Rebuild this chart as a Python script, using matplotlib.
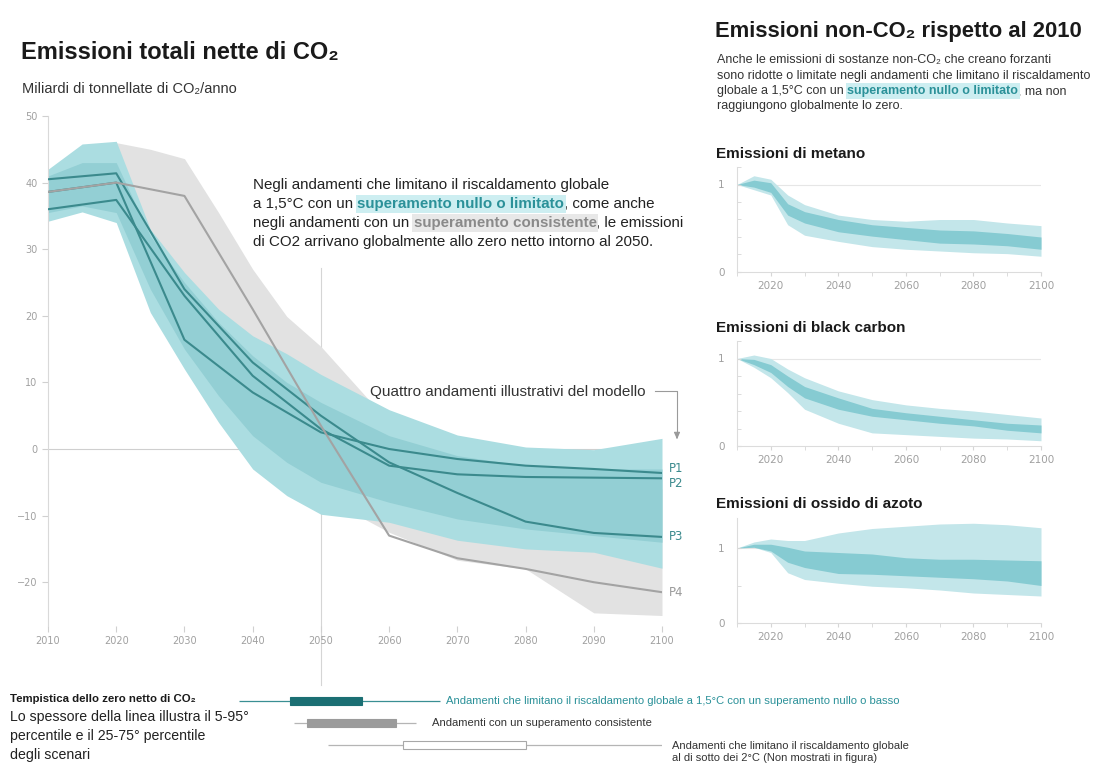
import numpy as np
import matplotlib
matplotlib.use("Agg")
import matplotlib.pyplot as plt
from matplotlib.ticker import MultipleLocator

W, H = 1115, 764
SANS = ["Liberation Sans", "DejaVu Sans"]
plt.rcParams["font.family"] = SANS

## main chart data (Gt CO2/anno)
years = [2010, 2015, 2020, 2025, 2030, 2035, 2040, 2045, 2050, 2060, 2070, 2080, 2090, 2100]
teal_hi = [42, 45.8, 46.2, 33, 26.5, 21, 17, 14.3, 11.2, 5.9, 2.1, 0.3, -0.1, 1.6]
teal_lo = [34.2, 35.6, 34, 20.5, 12, 4, -3, -7, -9.8, -11, -13.7, -15, -15.5, -17.9]
teal_in_hi = [41, 43, 43, 32, 25, 19, 14, 10, 7, 2, -1, -2.5, -3, -3]
teal_in_lo = [35.5, 36.5, 35.5, 24, 15, 8, 2, -2, -5, -8, -10.5, -12, -13, -14]
grey_hi = [40, 44, 46, 45, 43.6, 35.5, 27, 19.9, 15.4, 4, -2, -5, -6, -6]
grey_lo = [37, 38, 38, 33, 25, 15, 5, -3, -7, -12.5, -16.7, -18, -24.6, -25]

p_years = [2010, 2020, 2030, 2040, 2050, 2060, 2070, 2080, 2090, 2100]
P1 = [38.6, 40.0, 16.4, 8.5, 2.5, 0.0, -1.5, -2.5, -3.0, -3.6]
P2 = [36.0, 37.4, 23.0, 11.0, 3.0, -2.5, -3.8, -4.2, -4.3, -4.4]
P3 = [40.5, 41.4, 24.0, 13.0, 5.0, -2.0, -6.6, -10.9, -12.6, -13.2]
P4 = [38.6, 40.0, 38.0, 21.0, 3.5, -13.0, -16.4, -18.0, -20.0, -21.5]

## non-CO2 panels (rispetto al 2010)
sy = [2010, 2015, 2020, 2025, 2030, 2040, 2050, 2060, 2070, 2080, 2090, 2100]
ch4_out_hi = [1, 1.1, 1.06, 0.88, 0.77, 0.65, 0.6, 0.58, 0.6, 0.6, 0.56, 0.53]
ch4_out_lo = [1, 0.94, 0.88, 0.54, 0.42, 0.35, 0.29, 0.26, 0.24, 0.22, 0.21, 0.18]
ch4_in_hi = [1, 1.05, 1.02, 0.78, 0.69, 0.6, 0.54, 0.51, 0.48, 0.47, 0.44, 0.4]
ch4_in_lo = [1, 0.97, 0.91, 0.65, 0.56, 0.46, 0.41, 0.37, 0.33, 0.32, 0.3, 0.26]

bc_out_hi = [1, 1.04, 1.0, 0.88, 0.78, 0.63, 0.53, 0.47, 0.43, 0.4, 0.36, 0.32]
bc_out_lo = [1, 0.9, 0.78, 0.61, 0.42, 0.26, 0.15, 0.13, 0.11, 0.09, 0.08, 0.06]
bc_in_hi = [1, 0.99, 0.93, 0.8, 0.68, 0.55, 0.43, 0.38, 0.34, 0.3, 0.26, 0.24]
bc_in_lo = [1, 0.93, 0.84, 0.68, 0.55, 0.42, 0.34, 0.3, 0.26, 0.23, 0.18, 0.15]

n2o_out_hi = [1, 1.08, 1.12, 1.1, 1.1, 1.2, 1.26, 1.29, 1.32, 1.33, 1.31, 1.27]
n2o_out_lo = [1, 1.01, 0.94, 0.67, 0.58, 0.53, 0.49, 0.47, 0.44, 0.4, 0.38, 0.36]
n2o_in_hi = [1, 1.05, 1.05, 1.01, 0.96, 0.94, 0.92, 0.87, 0.85, 0.85, 0.84, 0.83]
n2o_in_lo = [1, 1.01, 0.96, 0.81, 0.74, 0.66, 0.65, 0.63, 0.61, 0.59, 0.56, 0.5]

## net zero timing (5, 25, 75, 95 percentile years)
nz_rows = ["basso", "consistente", "2C"]
nz_p5 = [2038, 2046, 2051]
nz_p25 = [2045.5, 2048, 2062]
nz_p75 = [2056, 2061, 2080]
nz_p95 = [2067.5, 2064, 2100]

TEAL_LINE = "#3b8a8d"
TEAL_TXT = "#2b9199"
GREY_TXT = "#8a8a8a"
TICK = "#a0a0a0"


def fx(px):
    return px / W


def fy(py):
    return 1 - py / H


fig = plt.figure(figsize=(W / 100, H / 100), dpi=100)
fig.patch.set_facecolor("white")
renderer = fig.canvas.get_renderer()


def text_w(s, **kw):
    t1 = fig.text(0, 0, s + "|", **kw)
    t2 = fig.text(0, 0, "|", **kw)
    w = t1.get_window_extent(renderer).width - t2.get_window_extent(renderer).width
    t1.remove()
    t2.remove()
    return w


def rich_line(x, y, parts, size):
    # parts: (testo, colore, peso, sfondo)
    for txt, color, weight, bg in parts:
        kw = dict(fontsize=size, color=color, fontweight=weight, family=SANS)
        t = fig.text(fx(x), fy(y), txt, va="baseline", ha="left", **kw)
        if bg:
            t.set_bbox(dict(facecolor=bg, edgecolor="none", pad=1.2))
            t.set_zorder(5)
        x += text_w(txt, **kw)


## ---- main chart
ax = fig.add_axes([fx(48), fy(625.5), fx(662 - 48), (625.5 - 116) / H])
ax.fill_between(years, grey_lo, grey_hi, color="#e2e2e2", lw=0, zorder=1)
ax.fill_between(years, teal_lo, teal_hi, color="#abdde1", lw=0, zorder=2)
ax.fill_between(years, teal_in_lo, teal_in_hi, color="#93cfd4", lw=0, zorder=2)
ax.axhline(0, color="#cfcfcf", lw=0.8, zorder=1.5)
for s in [P1, P2, P3]:
    ax.plot(p_years, s, color=TEAL_LINE, lw=1.5, zorder=4)
ax.plot(p_years, P4, color="#a3a3a3", lw=1.5, zorder=4)

for lab, s, dy, c in [("P1", P1, 3, TEAL_LINE), ("P2", P2, -4, TEAL_LINE),
                      ("P3", P3, 0, TEAL_LINE), ("P4", P4, 0, "#9a9a9a")]:
    ax.annotate(lab, (p_years[-1], s[-1]), xytext=(5, dy), textcoords="offset points",
                va="center", ha="left", fontsize=8.5, color=c, family="DejaVu Sans",
                annotation_clip=False)

ax.set_xlim(2010, 2100)
ax.set_ylim(-26.5, 50)
ax.set_yticks([-20, -10, 0, 10, 20, 30, 40, 50])
ax.set_xticks(range(2010, 2101, 10))
for sp in ["top", "right", "bottom"]:
    ax.spines[sp].set_visible(False)
ax.spines["left"].set_color("#d9d9d9")
ax.tick_params(colors="#d0d0d0", labelcolor=TICK, labelsize=7, length=4, width=0.8)
for lbl in ax.get_xticklabels() + ax.get_yticklabels():
    lbl.set_family("DejaVu Sans")

# linea verticale 2050
ax.plot([2050, 2050], [27.2, -35.4], color="#d5d5d5", lw=0.8, clip_on=False, zorder=0.5)

# quattro andamenti
fig.text(fx(646), fy(396), "Quattro andamenti illustrativi del modello", ha="right",
         va="baseline", fontsize=11, color="#333333")
fig.add_artist(plt.Line2D([fx(655), fx(677), fx(677)], [fy(391), fy(391), fy(436)],
                          color="#9a9a9a", lw=0.8))
ax.annotate("", xy=(fx(677), fy(442)), xytext=(fx(677), fy(434)), xycoords="figure fraction",
            arrowprops=dict(arrowstyle="-|>,head_width=0.18,head_length=0.4", color="#9a9a9a", lw=0.8))

## ---- titles and texts
fig.text(fx(21), fy(59), "Emissioni totali nette di CO₂", fontsize=17, fontweight="bold",
         color="#1a1a1a", va="baseline")
fig.text(fx(22), fy(93), "Miliardi di tonnellate di CO₂/anno", fontsize=10.5, color="#333333",
         va="baseline")

BLK = "#222222"
FS = 10.9
rich_line(253, 189, [("Negli andamenti che limitano il riscaldamento globale", BLK, "normal", None)], FS)
rich_line(253, 208, [("a 1,5°C con un ", BLK, "normal", None),
                     ("superamento nullo o limitato", TEAL_TXT, "bold", "#cdeef1"),
                     (", come anche", BLK, "normal", None)], FS)
rich_line(253, 227, [("negli andamenti con un ", BLK, "normal", None),
                     ("superamento consistente", GREY_TXT, "bold", "#e8e8e8"),
                     (", le emissioni", BLK, "normal", None)], FS)
rich_line(253, 246, [("di CO2 arrivano globalmente allo zero netto intorno al 2050.", BLK, "normal", None)], FS)

fig.text(fx(715), fy(37), "Emissioni non-CO₂ rispetto al 2010", fontsize=15.8, fontweight="bold",
         color="#1a1a1a", va="baseline")
FR = 9.0
rich_line(717, 63, [("Anche le emissioni di sostanze non-CO₂ che creano forzanti", "#333333", "normal", None)], FR)
rich_line(717, 78.5, [("sono ridotte o limitate negli andamenti che limitano il riscaldamento", "#333333", "normal", None)], FR)
rich_line(717, 94, [("globale a 1,5°C con un ", "#333333", "normal", None),
                    ("superamento nullo o limitato", TEAL_TXT, "bold", "#cdeef1"),
                    (", ma non", "#333333", "normal", None)], FR)
rich_line(717, 109.5, [("raggiungono globalmente lo zero.", "#333333", "normal", None)], FR)

## ---- small panels
panels = [("Emissioni di metano", 158, 272, 1.2, 0.2, ch4_out_lo, ch4_out_hi, ch4_in_lo, ch4_in_hi),
          ("Emissioni di black carbon", 332, 446, 1.2, 0.2, bc_out_lo, bc_out_hi, bc_in_lo, bc_in_hi),
          ("Emissioni di ossido di azoto", 508, 623, 1.4, 0.5, n2o_out_lo, n2o_out_hi, n2o_in_lo, n2o_in_hi)]
for title, ty, bottom, ytop, minor, olo, ohi, ilo, ihi in panels:
    fig.text(fx(716), fy(ty), title, fontsize=11, fontweight="bold", color="#1a1a1a", va="baseline")
    sa = fig.add_axes([fx(737), fy(bottom), fx(1041 - 737), 105 / H])
    sa.fill_between(sy, olo, ohi, color="#c3e6ea", lw=0)
    sa.fill_between(sy, ilo, ihi, color="#86cbd2", lw=0)
    sa.axhline(1, color="#e6e6e6", lw=0.8, zorder=0)
    sa.set_xlim(2010, 2100)
    sa.set_ylim(0, ytop)
    sa.set_yticks([0, 1])
    sa.yaxis.set_minor_locator(MultipleLocator(minor))
    sa.set_xticks([2020, 2040, 2060, 2080, 2100])
    sa.xaxis.set_minor_locator(MultipleLocator(10))
    for sp in ["top", "right"]:
        sa.spines[sp].set_visible(False)
    for sp in ["left", "bottom"]:
        sa.spines[sp].set_color("#dcdcdc")
    sa.tick_params(which="both", colors="#d6d6d6", labelcolor=TICK, labelsize=7.5, length=3)
    sa.tick_params(axis="y", which="both", direction="in", length=3, pad=9)
    for lbl in sa.get_xticklabels() + sa.get_yticklabels():
        lbl.set_family("DejaVu Sans")

## ---- net zero timing
at = fig.add_axes([fx(48), fy(756), fx(662 - 48), 66 / H])
at.set_xlim(2010, 2100)
at.set_ylim(2.5, -0.5)
at.axis("off")
bar_face = ["#1b6f73", "#9b9b9b", "white"]
line_col = ["#3a8f93", "#b5b5b5", "#b5b5b5"]
for i in range(len(nz_rows)):
    at.hlines(i, nz_p5[i], nz_p95[i], color=line_col[i], lw=0.9)
    at.barh(i, nz_p75[i] - nz_p25[i], left=nz_p25[i], height=0.32, color=bar_face[i],
            edgecolor="#a8a8a8" if i == 2 else bar_face[i], lw=0.8, zorder=3)

fig.text(fx(446), fy(704), "Andamenti che limitano il riscaldamento globale a 1,5°C con un superamento nullo o basso",
         fontsize=8.1, color=TEAL_TXT, va="baseline")
fig.text(fx(432), fy(726), "Andamenti con un superamento consistente", fontsize=8.1, color="#333333", va="baseline")
fig.text(fx(672), fy(749), "Andamenti che limitano il riscaldamento globale", fontsize=8.0, color="#333333", va="baseline")
fig.text(fx(672), fy(761), "al di sotto dei 2°C (Non mostrati in figura)", fontsize=8.0, color="#333333", va="baseline")

fig.text(fx(10), fy(702), "Tempistica dello zero netto di CO₂", fontsize=8.2, fontweight="bold",
         color="#1a1a1a", va="baseline")
fig.text(fx(10), fy(721), "Lo spessore della linea illustra il 5-95°", fontsize=10.2, color="#222222", va="baseline")
fig.text(fx(10), fy(740), "percentile e il 25-75° percentile", fontsize=10.2, color="#222222", va="baseline")
fig.text(fx(10), fy(759), "degli scenari", fontsize=10.2, color="#222222", va="baseline")

fig.savefig("out.png", dpi=100, facecolor="white")
